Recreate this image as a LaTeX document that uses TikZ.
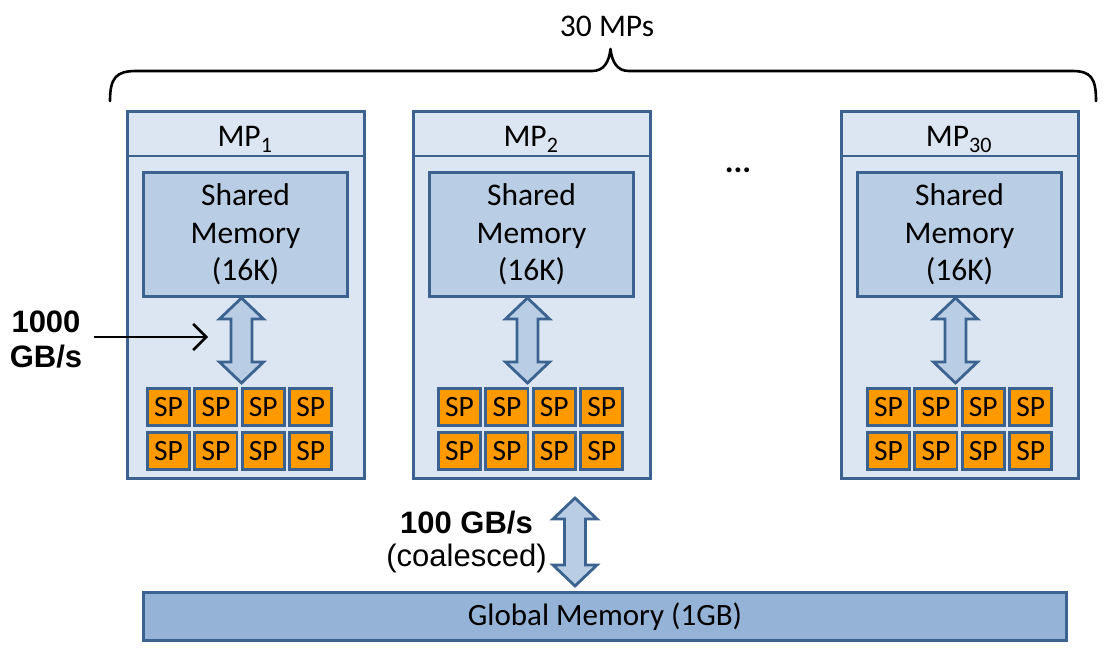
\documentclass[tikz,border=0pt]{standalone}
\usepackage{fontspec}
\setmainfont{Carlito}
\newfontfamily\arialfont{Liberation Sans}
\usetikzlibrary{calc,arrows.meta}
\definecolor{bord}{HTML}{3C6290}
\definecolor{mpfill}{HTML}{DCE6F2}
\definecolor{smfill}{HTML}{B9CDE5}
\definecolor{gmfill}{HTML}{95B3D7}
\definecolor{spfill}{HTML}{FF9900}
\newcommand\fatarrow[2]{%
  \draw[blockarrow] let \p1=(#1), \p2=(#2) in
  (\x1,\y1) -- (\x1+22pt,\y1-21pt) -- (\x1+10.5pt,\y1-21pt) -- (\x1+10.5pt,\y2+21pt)
  -- (\x1+22pt,\y2+21pt) -- (\x1,\y2) -- (\x1-22pt,\y2+21pt) -- (\x1-10.5pt,\y2+21pt)
  -- (\x1-10.5pt,\y1-21pt) -- (\x1-22pt,\y1-21pt) -- cycle;}
\begin{document}
\begin{tikzpicture}[x=1pt,y=-1pt,
  mpbox/.style={draw=bord, line width=2.8pt, fill=mpfill, minimum width=237.2pt, minimum height=367.2pt, inner sep=0pt},
  smbox/.style={draw=bord, line width=2.8pt, fill=smfill, minimum width=204.2pt, minimum height=124.2pt, inner sep=0pt, align=center, font=\fontsize{31.5}{37.5}\selectfont},
  spbox/.style={draw=bord, line width=2.8pt, fill=spfill, minimum width=42.2pt, minimum height=37.2pt, inner sep=0pt, font=\fontsize{29.5}{30}\selectfont},
  gmbox/.style={draw=bord, line width=2.8pt, fill=gmfill, minimum width=923.2pt, minimum height=48.2pt, inner sep=0pt, font=\fontsize{31}{34}\selectfont},
  blockarrow/.style={draw=bord, line width=2.8pt, fill=smfill, line join=miter},
  mplabel/.style={anchor=base, inner sep=0pt, font=\fontsize{31.5}{34}\selectfont},
  plainlabel/.style={inner sep=0pt, font=\fontsize{31.5}{34}\selectfont},
  boldlabel/.style={inner sep=0pt, align=center, font=\arialfont\bfseries\fontsize{31}{35}\selectfont},
  rate/.style={inner sep=0pt, font=\arialfont\fontsize{31}{34}\selectfont},
  brace/.style={draw=black, line width=2.6pt, line cap=round, line join=round},
  pointer/.style={draw=black, line width=2.6pt, -{Straight Barb[length=13pt,width=26pt,line width=2.6pt]}}
]
\useasboundingbox (0,0) rectangle (1108,655);

% brace and its label
\draw[brace] (110,101) .. controls (110,78) and (116,71) .. (136,71) -- (592,71)
  .. controls (604,71) and (609,62) .. (610.5,49)
  .. controls (612,62) and (617,71) .. (629,71) -- (1072,71)
  .. controls (1091,71) and (1096,78) .. (1096,101);
\node[plainlabel] (nmp) at (607,26) {30 MPs};

% multiprocessors
\foreach \i/\cx/\gx/\lab in {1/246/146/1, 2/532/437/2, 3/960/866/30}{
  \node[mpbox] (mp\i) at (\cx,295) {};
  \draw[draw=bord, line width=2.8pt] ($(mp\i.north west)+(0,46)$) -- ($(mp\i.north east)+(0,46)$);
  \node[mplabel] (mpl\i) at (\cx-1,147) {MP\textsubscript{\lab}};
  \node[smbox] (sm\i) at (\cx-0.5,234.5) {Shared\\Memory\\(16K)};
  \foreach \r/\y in {1/407, 2/451}{
    \foreach \c in {1,2,3,4}{
      \node[spbox] (sp\i-\r-\c) at ({\gx+22.5+47.4*(\c-1)},\y) {SP};
    }
  }
  \coordinate (at\i) at ($(sm\i.south)+(-4,0)$);
  \coordinate (ab\i) at ($(at\i |- sp\i-1-1.north)+(0,-4)$);
  \fatarrow{at\i}{ab\i}
}

\node[inner sep=0pt, font=\bfseries\fontsize{33}{34}\selectfont] (dots) at (738,170) {...};

% shared memory bandwidth
\node[boldlabel] (r1000) at (46,339) {1000\\GB/s};
\coordinate (p1000) at (208,337);
\draw[pointer] ($(r1000.east)+(12,-2)$) -- (p1000);

% global memory
\node[gmbox] (gm) at (605,616.5) {Global Memory (1GB)};
\coordinate (gtop) at (575,498);
\coordinate (gbot) at ($(gtop |- gm.north)+(0,-5)$);
\fatarrow{gtop}{gbot}
\node[boldlabel] (r100) at (466.5,522.5) {100 GB/s};
\node[rate] (coal) at (466.5,558) {(coalesced)};
\end{tikzpicture}
\end{document}
